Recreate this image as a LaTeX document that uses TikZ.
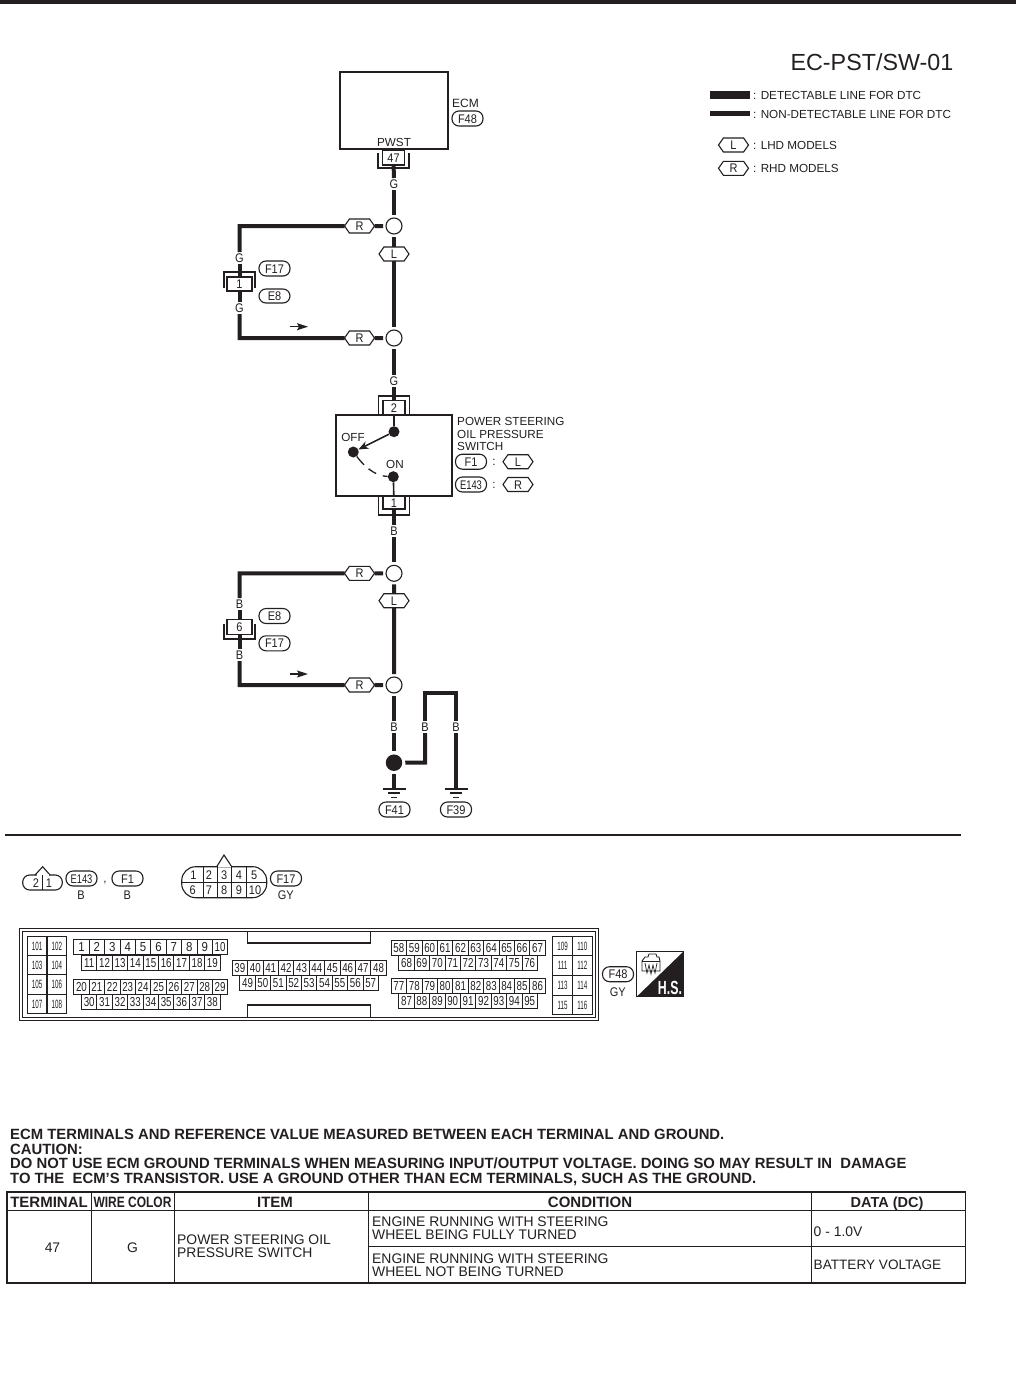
\documentclass[tikz,border=0pt]{standalone}
\usepackage{fontspec}
\usetikzlibrary{shapes.symbols,shapes.misc,arrows.meta}
\setmainfont{Liberation Sans}
\newfontfamily\narrowa[FakeStretch=0.75]{Liberation Sans}
\newfontfamily\narrowb[FakeStretch=0.52]{Liberation Sans}
\newfontfamily\narrowc[FakeStretch=0.88]{Liberation Sans}
\newfontfamily\narrowbold[FakeStretch=0.8]{Liberation Sans Bold}
\newfontfamily\narrowhs[FakeStretch=0.65]{Liberation Sans Bold}
\newcommand{\fs}[1]{\fontsize{#1}{#1}\selectfont}
\definecolor{ink}{HTML}{231F20}
\tikzset{
 every node/.style={text=ink},
 wire/.style={draw=ink,line width=4pt,line join=miter},
 thin line/.style={draw=ink,line width=1.1pt},
 lab/.style={font=\narrowc\fs{12.5},text height=9pt,text depth=0pt},
 txt/.style={inner sep=0pt,font=\fs{11.7},text height=8.5pt,text depth=0pt},
 wl/.style={lab,inner sep=0pt,minimum width=10pt,minimum height=12pt,outer sep=0pt},
 hex/.style={lab,signal,signal to=west and east,signal pointer angle=110,draw=ink,line width=1.1pt,fill=white,
   minimum width=30pt,minimum height=14pt,inner sep=0pt,outer sep=0pt},
 pill/.style={lab,draw=ink,line width=1.1pt,rounded corners=7pt,minimum width=31pt,minimum height=15pt,inner sep=0pt},
 junc/.style={circle,draw=ink,line width=1.1pt,minimum size=16pt,inner sep=0pt,outer sep=3pt},
 sdot/.style={circle,fill=ink,minimum size=11pt,inner sep=0pt},
 pinbox/.style={lab,draw=ink,line width=1.1pt,inner sep=0pt,minimum width=22pt,minimum height=15pt},
 cell/.style={draw=ink,line width=1pt,inner sep=0pt,anchor=north west,minimum width=15.4pt,minimum height=15pt,text height=9pt,text depth=0pt},
 big/.style={draw=ink,line width=1.1pt,inner sep=0pt,anchor=north west,font=\narrowb\fs{12},text height=8.5pt,text depth=0pt},
 flag/.style={-{Stealth[length=11pt,width=7pt,inset=2pt]},draw=ink,line width=1.2pt},
 gnd/.style={draw=ink,line width=1.1pt},
 tab/.style={inner sep=0pt,font=\fs{13.9},text height=10pt,text depth=0pt},
 tabl/.style={tab,anchor=west},
 tabh/.style={inner sep=0pt,font=\bfseries\fs{15},text height=10.5pt,text depth=0pt},
 headt/.style={inner sep=0pt,anchor=west,font=\bfseries\fs{14.85},text height=10.5pt,text depth=0pt},
}
\newcommand{\pinrow}[4]{% x, y, first, last
  \foreach \n [count=\i from 0] in {#3,...,#4}{%
    \pgfmathsetmacro{\xx}{#1+\i*15.4}%
    \ifnum\n<10 \def\cf{\narrowc\fs{13}}\else\def\cf{\narrowa\fs{13}}\fi
    \node[cell,font=\cf] (pin\n) at (\xx,#2) {\n};}}
\newcommand{\bigblock}[3]{% x, col width, rows
  \foreach \yy/\hh/\a/\b in {#3}{%
    \node[big,minimum width=#2pt,minimum height=\hh pt] (pin\a) at (#1,\yy) {\a};
    \pgfmathsetmacro{\xb}{#1+#2}%
    \node[big,minimum width=#2pt,minimum height=\hh pt] (pin\b) at (\xb,\yy) {\b};}}
\begin{document}
\begin{tikzpicture}[x=1pt,y=-1pt]
\useasboundingbox (0,0) rectangle (1016,1373);
\fill[ink] (0,0) rectangle (1016,4);

% title and legend
\node[inner sep=0pt,anchor=east,font=\fs{23.3}] (title) at (953.5,62) {EC-PST/SW-01};
\coordinate (b1a) at (710,95); \coordinate (b1b) at (749.5,95);
\coordinate (b2a) at (710,113.7); \coordinate (b2b) at (749.5,113.7);
\draw[draw=ink,line width=8.6pt] (b1a) -- (b1b);
\draw[draw=ink,line width=4.6pt] (b2a) -- (b2b);
\node[txt,anchor=west] (lg1) at (753,95) {: DETECTABLE LINE FOR DTC};
\node[txt,anchor=west] (lg2) at (753,114.5) {: NON-DETECTABLE LINE FOR DTC};
\node[hex] (lgL) at (733.5,145) {L};
\node[hex] (lgR) at (733.5,168.3) {R};
\node[txt,anchor=west] (lg3) at (753,145) {: LHD MODELS};
\node[txt,anchor=west] (lg4) at (753,168.3) {: RHD MODELS};

% ECM
\node[draw=ink,line width=1.2pt,minimum width=108pt,minimum height=77pt,inner sep=0pt] (ecm) at (394,110.5) {};
\node[txt] (pwst) at (394,142) {PWST};
\node[txt,anchor=west,font=\fs{12}] (ecmt) at (452,103) {ECM};
\node[pill] (f48a) at (467.5,118.5) {F48};
\node[pinbox] (p47) at (393.5,157.5) {47};
\draw[thin line] (378,153) -- (378,168) -- (409,168) -- (409,153);
\node[wl] (g1) at (394,184) {G};
\node[junc] (j1) at (394,226) {};
\node[hex] (l1) at (394,254) {L};
\node[junc] (j2) at (394,338) {};
\node[hex] (r1) at (359.5,226) {R};
\node[hex] (r2) at (359.5,338) {R};
\coordinate (c1) at (239.5,226);
\coordinate (c2) at (239.5,338);
\node[wl] (g2) at (239.5,258) {G};
\node[pinbox,minimum width=25pt,minimum height=14pt] (p1) at (239.5,284) {1};
\draw[thin line] (224,288) -- (224,272) -- (255,272) -- (255,288);
\node[wl] (g3) at (239.5,308) {G};
\node[pill] (f17a) at (274.5,268.5) {F17};
\node[pill,minimum height=14pt] (e8a) at (274.5,296) {E8};
\draw[wire] (p47) -- (g1);
\draw[wire] (g1) -- (j1);
\draw[wire] (j1) -- (l1);
\draw[wire] (l1) -- (j2);
\draw[wire] (j1) -- (r1);
\draw[wire] (j2) -- (r2);
\draw[wire] (r1) -- (c1) -- (g2);
\draw[wire] (g2) -- (p1);
\draw[wire] (p1) -- (g3);
\draw[wire] (g3) -- (c2) -- (r2);
\coordinate (a1s) at (290,326.7); \coordinate (a1e) at (308,326.7);
\draw[flag] (a1s) -- (a1e);

% switch
\node[wl] (g4) at (394,381) {G};
\node[pinbox] (p2) at (394,408.3) {2};
\draw[thin line] (378.7,415) -- (378.7,396) -- (409.3,396) -- (409.3,415);
\node[draw=ink,line width=1.2pt,minimum width=116pt,minimum height=81pt,inner sep=0pt] (sw) at (394,455.5) {};
\node[pinbox,minimum height=13pt] (p1b) at (394,502.5) {1};
\draw[thin line] (378.7,496) -- (378.7,515) -- (409.3,515) -- (409.3,496);
\node[sdot] (s1) at (394,431.7) {};
\node[sdot] (s2) at (353.3,452) {};
\node[sdot] (s3) at (393.3,476.7) {};
\draw[wire] (j2) -- (g4);
\draw[wire] (g4) -- (p2);
\draw[thin line,line width=1.6pt] (p2) -- (s1);
\draw[thin line,line width=1.6pt] (s3) -- (p1b);
\draw[draw=ink,line width=1.6pt,-{Stealth[length=10pt,width=8pt]}] (s1) -- (s2);
\draw[draw=ink,line width=1.3pt,dash pattern=on 11pt off 6pt on 9pt off 7pt] (s2) .. controls (368,471) and (378,476) .. (s3);
\node[txt] (off) at (353,437.7) {OFF};
\node[txt] (on) at (395,464) {ON};
\node[txt,anchor=west] (sw1) at (457,421.7) {POWER STEERING};
\node[txt,anchor=west] (sw2) at (457,434) {OIL PRESSURE};
\node[txt,anchor=west] (sw3) at (457,446) {SWITCH};
\node[pill] (f1a) at (471,461.7) {F1};
\node[txt] (col1) at (494,461.7) {:};
\node[hex] (l2) at (518,461.7) {L};
\node[pill,font=\narrowa\fs{12.5}] (e143a) at (471,484.5) {E143};
\node[txt] (col2) at (494,484.5) {:};
\node[hex] (r3) at (518,484.5) {R};

% lower harness
\node[wl] (b1) at (394,531) {B};
\node[junc] (j3) at (394,573.3) {};
\node[hex] (l3) at (394,600.7) {L};
\node[junc] (j4) at (394,685) {};
\node[hex] (r4) at (359.5,573.3) {R};
\node[hex] (r5) at (359.5,685) {R};
\coordinate (c3) at (239.5,573.3);
\coordinate (c4) at (239.5,685);
\node[wl] (b2) at (239.5,604) {B};
\node[pinbox,minimum width=25pt,minimum height=15pt] (p6) at (239.5,627) {6};
\draw[thin line] (224,624) -- (224,639) -- (255,639) -- (255,624);
\node[wl] (b3) at (239.5,655) {B};
\node[pill] (e8b) at (274.5,616) {E8};
\node[pill] (f17b) at (274.5,643.3) {F17};
\draw[wire] (p1b) -- (b1);
\draw[wire] (b1) -- (j3);
\draw[wire] (j3) -- (l3);
\draw[wire] (l3) -- (j4);
\draw[wire] (j3) -- (r4);
\draw[wire] (j4) -- (r5);
\draw[wire] (r4) -- (c3) -- (b2);
\draw[wire] (b2) -- (p6);
\draw[wire] (p6) -- (b3);
\draw[wire] (b3) -- (c4) -- (r5);
\coordinate (a2s) at (290,674); \coordinate (a2e) at (308,674);
\draw[flag] (a2s) -- (a2e);

% grounds
\node[wl] (b4) at (394,727) {B};
\node[circle,fill=ink,minimum size=16.5pt,inner sep=0pt,outer sep=3pt] (dot) at (394,762.7) {};
\node[wl] (b5) at (425,727) {B};
\node[wl] (b6) at (456,727) {B};
\coordinate (c5) at (425,762.5);
\coordinate (c6) at (425,693);
\coordinate (c7) at (456,693);
\coordinate (g41) at (394,789);
\coordinate (g39) at (456,789);
\draw[wire] (j4) -- (b4);
\draw[wire] (b4) -- (dot);
\draw[wire] (dot) -- (c5) -- (b5);
\draw[wire] (b5) -- (c6) -- (c7) -- (b6);
\draw[wire] (b6) -- (g39);
\draw[wire] (dot) -- (g41);
\foreach \gx/\gn in {394/a,456/b}{
  \draw[gnd] (\gx-11.5,789) -- (\gx+11.5,789);
  \draw[gnd] (\gx-6,793) -- (\gx+6,793);
  \draw[gnd] (\gx-3,797.5) -- (\gx+3,797.5);
}
\node[pill] (f41) at (394.5,809.5) {F41};
\node[pill] (f39) at (456,809.5) {F39};

% divider
\coordinate (da) at (5,835); \coordinate (db) at (961,835);
\draw[draw=ink,line width=1.2pt] (da) -- (db);

% 2-pin connector
\draw[thin line,rounded corners=7pt] (22.7,875) rectangle (62.3,890);
\draw[thin line] (35,875) -- (42.7,866.7) -- (50,875);
\draw[draw=white,line width=1.4pt] (36.5,875) -- (48.5,875);
\draw[thin line] (42.7,875) -- (42.7,890);
\node[lab,inner sep=0pt] (c2a) at (36,882.5) {2};
\node[lab,inner sep=0pt] (c2b) at (49,882.5) {1};
\node[pill,font=\narrowa\fs{12.5}] (e143b) at (81.5,878.5) {E143};
\node[txt] (comma) at (105,878) {,};
\node[pill] (f1b) at (127.5,878.5) {F1};
\node[lab,inner sep=0pt] (bb1) at (81,894.5) {B};
\node[lab,inner sep=0pt] (bb2) at (127.3,894.5) {B};

% 10-pin connector
\draw[thin line,rounded corners=14pt] (181.7,866.7) rectangle (266.7,897.7);
\draw[thin line] (216.7,866.7) -- (224,855) -- (231.7,866.7);
\draw[draw=white,line width=1.4pt] (218,866.7) -- (230.5,866.7);
\draw[thin line] (181.7,882.5) -- (266.7,882.5);
\foreach \vx in {203.3,217.3,231.7,246.7}{\draw[thin line] (\vx,866.7) -- (\vx,897.7);}
\foreach \n/\nx/\ny in {1/193.5/875,2/209/875,3/224.3/875,4/239/875,5/254.3/875,6/192.8/890,7/209/890,8/224.3/890,9/239/890,10/255/890}{
  \node[lab,inner sep=0pt] (ten\n) at (\nx,\ny) {\n};}
\node[pill] (f17c) at (286,878.5) {F17};
\node[lab,inner sep=0pt] (gy1) at (285.7,894.5) {GY};

% ECM connector frame
\draw[draw=ink,line width=1.6pt] (19.5,928.5) rectangle (598.5,1020.5);
\draw[draw=ink,line width=1pt] (22,931) rectangle (595.5,1017);
\draw[draw=ink,line width=1.2pt] (247.7,931) -- (247.7,943) -- (370.7,943) -- (370.7,931);
\draw[draw=ink,line width=1.2pt] (247.7,1017) -- (247.7,1005) -- (370.7,1005) -- (370.7,1017);

\bigblock{26.7}{19.7}{935.7/19.3/101/102,955/19.3/103/104,974.3/19.7/105/106,994/19.3/107/108}
\bigblock{552.2}{19.7}{935.7/19.3/109/110,955/20/111/112,975/20/113/114,995/19/115/116}
\pinrow{73.3}{939.3}{1}{10}
\pinrow{81}{954.5}{11}{19}
\pinrow{73.3}{979}{20}{29}
\pinrow{81}{994.2}{30}{38}
\pinrow{231.7}{960}{39}{48}
\pinrow{239.3}{975}{49}{57}
\pinrow{390.7}{940}{58}{67}
\pinrow{398.3}{955}{68}{76}
\pinrow{390.7}{978.3}{77}{86}
\pinrow{398.3}{993.3}{87}{95}
\node[pill] (f48b) at (618,974.2) {F48};
\node[lab,inner sep=0pt] (gy2) at (617.7,992) {GY};

% H.S. icon
\draw[draw=ink,line width=0.8pt] (636.7,951.7) rectangle (683.3,996.7);
\fill[ink] (683.3,951.7) -- (683.3,996.7) -- (636.7,996.7) -- cycle;
\node[inner sep=0pt,font=\narrowhs\fs{19},text=white] (hs) at (670,988) {H.S.};
\draw[draw=ink,line width=0.9pt] (642,961) -- (645,957) -- (648,957) -- (649,954) -- (656,954) -- (657,957) -- (659,957) -- (660,961) -- (660,971) -- (642,971) -- cycle;
\draw[draw=ink,line width=0.7pt] (642,961) -- (660,961);
\draw[draw=ink,line width=0.7pt] (645,963) -- (647,973) -- (649,965) -- (651,974) -- (653,965) -- (655,973) -- (657,963);

% table text
\node[headt] (h1) at (10,1134.5) {ECM TERMINALS AND REFERENCE VALUE MEASURED BETWEEN EACH TERMINAL AND GROUND.};
\node[headt] (h2) at (10,1149) {CAUTION:};
\node[headt] (h3) at (10,1163.5) {DO NOT USE ECM GROUND TERMINALS WHEN MEASURING INPUT/OUTPUT VOLTAGE. DOING SO MAY RESULT IN\ \ DAMAGE};
\node[headt] (h4) at (10,1178) {TO THE\ \ ECM’S TRANSISTOR. USE A GROUND OTHER THAN ECM TERMINALS, SUCH AS THE GROUND.};

% table
\draw[draw=ink,line width=1.8pt] (6.7,1191.7) rectangle (965.5,1282.7);
\draw[draw=ink,line width=1pt] (6.7,1210) -- (965.5,1210);
\draw[draw=ink,line width=1pt] (368.3,1246.7) -- (965.5,1246.7);
\foreach \vx in {91,174,368.3,811.7}{\draw[draw=ink,line width=1pt] (\vx,1191.7) -- (\vx,1282.7);}
\node[tabh] (th1) at (49,1202) {TERMINAL};
\node[tabh,font=\narrowbold\fs{15}] (th2) at (132.5,1202) {WIRE COLOR};
\node[tabh] (th3) at (275,1202) {ITEM};
\node[tabh] (th4) at (590,1202) {CONDITION};
\node[tabh,font=\bfseries\fs{14.5}] (th5) at (887,1202) {DATA (DC)};
\node[tab] (t47) at (52.5,1247) {47};
\node[tab] (tG) at (132.5,1247) {G};
\node[tabl] (ti1) at (177,1239) {POWER STEERING OIL};
\node[tabl] (ti2) at (177,1252) {PRESSURE SWITCH};
\node[tabl] (tc1) at (372,1221) {ENGINE RUNNING WITH STEERING};
\node[tabl] (tc2) at (372,1234) {WHEEL BEING FULLY TURNED};
\node[tabl] (tc3) at (372,1258) {ENGINE RUNNING WITH STEERING};
\node[tabl] (tc4) at (372,1271) {WHEEL NOT BEING TURNED};
\node[tabl] (td1) at (813.5,1231) {0 - 1.0V};
\node[tabl,font=\fs{13.6}] (td2) at (813.5,1264) {BATTERY VOLTAGE};
\end{tikzpicture}
\end{document}
